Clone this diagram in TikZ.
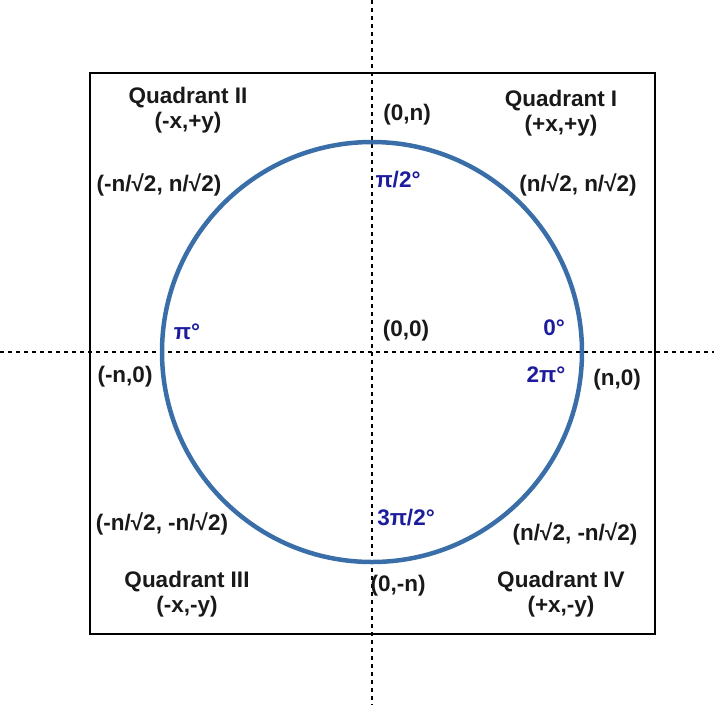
\documentclass[tikz,border=0pt]{standalone}
\usepackage{fontspec}
\setmainfont{Liberation Sans}
\definecolor{ringblue}{HTML}{3A6EA8}
\definecolor{angblue}{HTML}{1C1C9C}
\begin{document}
\begin{tikzpicture}[x=1pt,y=-1pt,
  lbl/.style={font=\fontsize{22.5}{25}\selectfont\bfseries, inner sep=0pt, align=center, text=black!90},
  ang/.style={lbl, text=angblue},
  axis/.style={line width=2pt, dash pattern=on 4pt off 4pt},
]
\useasboundingbox (0,0) rectangle (714,705);
\coordinate (vt) at (372,0);
\coordinate (vb) at (372,705);
\coordinate (hl) at (0,352);
\coordinate (hr) at (714,352);
\draw[axis] (vt) -- (vb);
\draw[axis] (hl) -- (hr);
\node[draw, line width=2.5pt, minimum width=565pt, minimum height=561pt, inner sep=0pt] (sq) at (372.5,353.5) {};
\node[draw=ringblue, line width=4.5pt, circle, minimum size=420pt, inner sep=0pt] (ring) at (372,352) {};

\node[lbl] (q2) at (188,110) {Quadrant II\\(-x,+y)};
\node[lbl] (q1) at (561,113) {Quadrant I\\(+x,+y)};
\node[lbl] (q3) at (187,594) {Quadrant III\\(-x,-y)};
\node[lbl] (q4) at (561,594) {Quadrant IV\\(+x,-y)};

\node[lbl] (p0n) at (407,115) {(0,n)};
\node[lbl] (p0s) at (398,586) {(0,-n)};
\node[lbl] (pw) at (125,377) {(-n,0)};
\node[lbl] (pe) at (617,380) {(n,0)};
\node[lbl] (po) at (406,331) {(0,0)};
\node[lbl] (pnw) at (159,185) {(-n/√2, n/√2)};
\node[lbl] (pne) at (578,185) {(n/√2, n/√2)};
\node[lbl] (psw) at (162,524) {(-n/√2, -n/√2)};
\node[lbl] (pse) at (575,534) {(n/√2, -n/√2)};

\node[ang] (a90) at (398,180) {π/2°};
\node[ang] (a180) at (187,332) {π°};
\node[ang] (a0) at (554,328) {0°};
\node[ang] (a360) at (546,375) {2π°};
\node[ang] (a270) at (406,518) {3π/2°};
\end{tikzpicture}
\end{document}
